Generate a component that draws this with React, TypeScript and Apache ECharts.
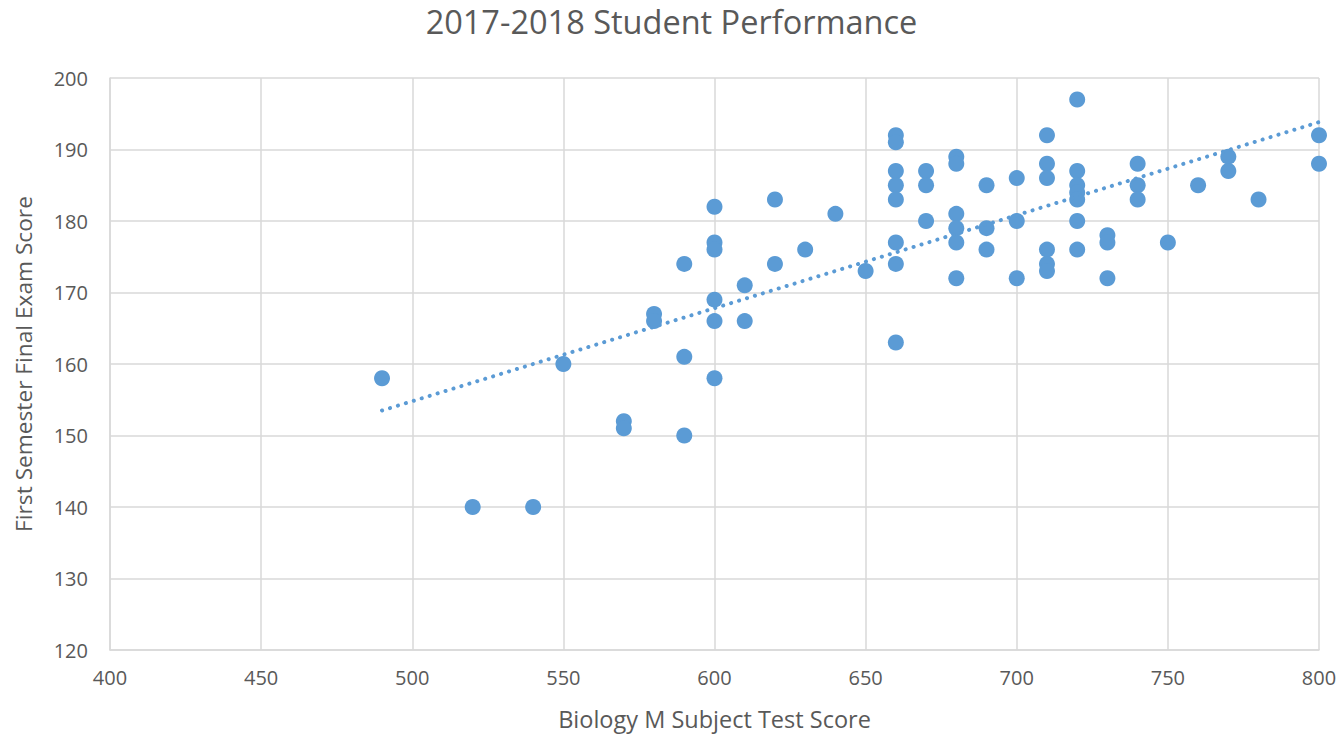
import React, { useEffect, useRef } from "react";
import * as echarts from "echarts";

const TITLE = "2017-2018 Student Performance";
const X_NAME = "Biology M Subject Test Score";
const Y_NAME = "First Semester Final Exam Score";

const bioScores: number[] = [
  490, 520, 540, 550, 570, 570, 580, 580, 590, 590, 590,
  600, 600, 600, 600, 600, 600, 610, 610, 620, 620, 630, 640, 650,
  660, 660, 660, 660, 660, 660, 660, 660,
  670, 670, 670,
  680, 680, 680, 680, 680, 680,
  690, 690, 690,
  700, 700, 700,
  710, 710, 710, 710, 710, 710,
  720, 720, 720, 720, 720, 720, 720,
  730, 730, 730,
  740, 740, 740,
  750, 760, 770, 770, 780, 800, 800,
];
const examScores: number[] = [
  158, 140, 140, 160, 152, 151, 167, 166, 174, 161, 150,
  182, 177, 176, 169, 166, 158, 171, 166, 183, 174, 176, 181, 173,
  192, 191, 187, 185, 183, 177, 174, 163,
  187, 185, 180,
  189, 188, 181, 179, 177, 172,
  185, 179, 176,
  186, 180, 172,
  192, 188, 186, 176, 174, 173,
  197, 187, 185, 184, 183, 180, 176,
  178, 177, 172,
  188, 185, 183,
  177, 185, 189, 187, 183, 192, 188,
];

const X_MIN = 400, X_MAX = 800, X_STEP = 50;
const Y_MIN = 120, Y_MAX = 200, Y_STEP = 10;

function linearFit(xs: number[], ys: number[]) {
  const n = xs.length;
  const mx = xs.reduce((a, b) => a + b, 0) / n;
  const my = ys.reduce((a, b) => a + b, 0) / n;
  let sxy = 0, sxx = 0;
  for (let i = 0; i < n; i++) {
    sxy += (xs[i] - mx) * (ys[i] - my);
    sxx += (xs[i] - mx) * (xs[i] - mx);
  }
  const slope = sxy / sxx;
  return { slope, intercept: my - slope * mx };
}

export default function App() {
  const ref = useRef<HTMLDivElement>(null);
  useEffect(() => {
    document.body.style.margin = "0";
    if (!ref.current) return;
    const chart = echarts.init(ref.current, undefined, { renderer: "svg" });
    const pts = bioScores.map((x, i) => [x, examScores[i]]);
    const { slope, intercept } = linearFit(bioScores, examScores);
    const xLo = Math.min(...bioScores), xHi = Math.max(...bioScores);
    const trend = [
      [xLo, intercept + slope * xLo],
      [xHi, intercept + slope * xHi],
    ];
    const font = "'Open Sans', 'Noto Sans', sans-serif";
    const grey = "#595959";
    chart.setOption({
      animation: false,
      textStyle: { fontFamily: font },
      title: {
        text: TITLE,
        left: "center",
        top: 0,
        textStyle: { fontFamily: font, fontSize: 32.5, fontWeight: "normal", color: grey },
      },
      grid: { left: 110, right: 24, top: 78, bottom: 85, containLabel: false },
      xAxis: {
        type: "value",
        min: X_MIN,
        max: X_MAX,
        interval: X_STEP,
        name: X_NAME,
        nameLocation: "middle",
        nameGap: 57,
        nameTextStyle: { fontFamily: font, fontSize: 23.5, color: grey },
        axisLine: { show: true, lineStyle: { color: "#D9D9D9", width: 1.5 } },
        axisTick: { show: false },
        axisLabel: { fontFamily: font, fontSize: 20, color: grey, margin: 17 },
        splitLine: { show: true, lineStyle: { color: "#D9D9D9", width: 1.5 } },
      },
      yAxis: {
        type: "value",
        min: Y_MIN,
        max: Y_MAX,
        interval: Y_STEP,
        name: Y_NAME,
        nameLocation: "middle",
        nameGap: 75,
        nameRotate: 90,
        nameTextStyle: { fontFamily: font, fontSize: 22.7, color: grey },
        axisLine: { show: true, lineStyle: { color: "#D9D9D9", width: 1.5 } },
        axisTick: { show: false },
        axisLabel: { fontFamily: font, fontSize: 20, color: grey, margin: 22 },
        splitLine: { show: true, lineStyle: { color: "#D9D9D9", width: 1.5 } },
      },
      series: [
        {
          type: "scatter",
          data: pts,
          symbolSize: 16,
          itemStyle: { color: "#5B9BD5", opacity: 1 },
          z: 2,
        },
        {
          type: "line",
          data: trend,
          showSymbol: false,
          symbol: "none",
          lineStyle: { color: "#5B9BD5", width: 4, type: [0.1, 8.2], cap: "round" },
          z: 3,
          silent: true,
        },
      ],
    });
    return () => chart.dispose();
  }, []);
  return <div ref={ref} style={{ width: 1343, height: 736 }} />;
}
